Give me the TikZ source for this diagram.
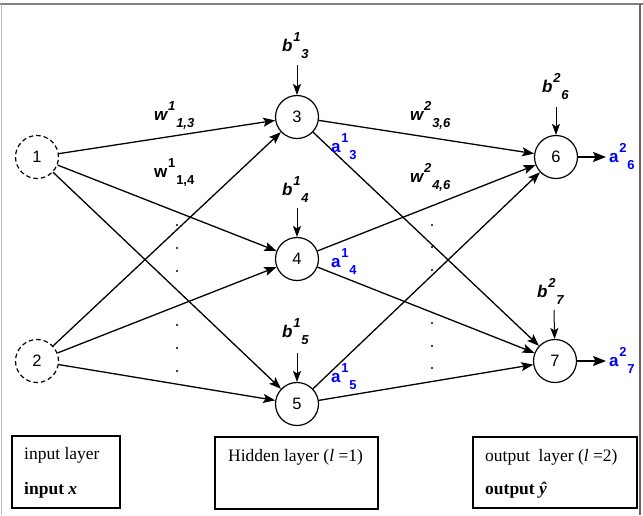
\documentclass[tikz,border=0pt]{standalone}
\usepackage{fontspec}
\setmainfont{Liberation Serif}
\newfontfamily\arialf{Liberation Sans}
\usetikzlibrary{arrows.meta}
\newcommand\nnlab[3]{{#1\kern0.8pt\raisebox{9.5pt}{\fontsize{13}{13}\selectfont #2}\kern0.8pt\raisebox{-7pt}{\fontsize{13}{13}\selectfont #3}}}
\begin{document}
\begin{tikzpicture}[x=1pt,y=-1pt,
  neuron/.style={circle,draw,line width=1.2pt,minimum size=43pt,inner sep=0pt,font=\arialf\fontsize{16.5}{16.5}\selectfont},
  inneuron/.style={neuron,dashed,dash pattern=on 4.5pt off 3pt},
  edge/.style={line width=1.3pt,-{Stealth[length=12pt,width=9pt,inset=2.5pt]}},
  biasarrow/.style={line width=1pt,-{Stealth[length=11pt,width=8pt,inset=2.5pt]}},
  outarrow/.style={line width=1.6pt,-{Stealth[length=13pt,width=10pt,inset=2.5pt]}},
  wlab/.style={anchor=base west,inner sep=0pt,font=\arialf\bfseries\fontsize{17}{17}\selectfont},
  alab/.style={wlab,text=blue},
  dotm/.style={circle,fill=black,inner sep=0pt,minimum size=2.4pt},
  legendbox/.style={draw,line width=1.1pt},
  legtext/.style={anchor=base west,inner sep=0pt,font=\fontsize{17.5}{17.5}\selectfont}]
\useasboundingbox (0,0) rectangle (643,515);
\fill[white] (0,0) rectangle (643,515);
% frame
\draw[gray,line width=1.8pt] (0,4) -- (643,4);
\draw[gray!50,line width=1pt] (1,4) -- (1,515);
\draw[gray!80!black,line width=1.2pt] (640,4) -- (640,515);

% neurons
\node[inneuron] (n1) at (37,157) {1};
\node[inneuron] (n2) at (37,361) {2};
\node[neuron] (n3) at (297,117) {3};
\node[neuron] (n4) at (297,259) {4};
\node[neuron] (n5) at (297,404) {5};
\node[neuron] (n6) at (556,157) {6};
\node[neuron] (n7) at (555,361) {7};

% edges
\foreach \s in {n1,n2}{\foreach \t in {n3,n4,n5}{\draw[edge] (\s) -- (\t);}}
\foreach \s in {n3,n4,n5}{\foreach \t in {n6,n7}{\draw[edge] (\s) -- (\t);}}

% bias arrows
\coordinate (bt3) at (297,65);
\coordinate (bt4) at (297,208);
\coordinate (bt5) at (297,353);
\coordinate (bt6) at (556,107);
\coordinate (bt7) at (554,310);
\draw[biasarrow] (bt3) -- (n3);
\draw[biasarrow] (bt4) -- (n4);
\draw[biasarrow] (bt5) -- (n5);
\draw[biasarrow] (bt6) -- (n6);
\draw[biasarrow] (bt7) -- (n7);

% output arrows
\coordinate (o6) at (606,157);
\coordinate (o7) at (606,361);
\draw[outarrow] (n6) -- (o6);
\draw[outarrow] (n7) -- (o7);

% weight labels
\node[wlab] (w13) at (154,120) {\itshape\nnlab{w}{1}{1,3}};
\node[wlab] (w14) at (154,177) {\nnlab{w}{1}{1,4}};
\node[wlab] (w36) at (410,120) {\itshape\nnlab{w}{2}{3,6}};
\node[wlab] (w46) at (410,182) {\itshape\nnlab{w}{2}{4,6}};

% bias labels
\node[wlab] (b13) at (282,51) {\itshape\nnlab{b}{1}{3}};
\node[wlab] (b14) at (282,195) {\itshape\nnlab{b}{1}{4}};
\node[wlab] (b15) at (282,337) {\itshape\nnlab{b}{1}{5}};
\node[wlab] (b26) at (542,92) {\itshape\nnlab{b}{2}{6}};
\node[wlab] (b27) at (537,297) {\itshape\nnlab{b}{2}{7}};

% activation labels
\node[alab] (a13) at (331,152) {\nnlab{a}{1}{3}};
\node[alab] (a14) at (331,267) {\nnlab{a}{1}{4}};
\node[alab] (a15) at (331,382) {\nnlab{a}{1}{5}};
\node[alab] (a26) at (609,162) {\nnlab{a}{2}{6}};
\node[alab] (a27) at (609,366) {\nnlab{a}{2}{7}};

% dots
\foreach \y [count=\i] in {225,248,271,325,348,371}{\node[dotm] (dl\i) at (177,\y) {};}
\foreach \y [count=\i] in {225,247,270,323,346,368}{\node[dotm] (dr\i) at (432,\y) {};}

% legend boxes
\draw[legendbox] (12,436) rectangle (120,508);
\draw[legendbox] (215,437) rectangle (378,509);
\draw[legendbox] (473,437) rectangle (637,508);
\node[legtext] (t1) at (24,459) {input layer};
\node[legtext] (t2) at (24,494) {\textbf{input \textit{x}}};
\node[legtext] (t3) at (228,461) {Hidden layer (\textit{l} =1)};
\node[legtext] (t4) at (485,461) {output\ \ layer (\textit{l} =2)};
\node[legtext] (t5) at (485,494) {\textbf{output \textit{ŷ}}};
\end{tikzpicture}
\end{document}
